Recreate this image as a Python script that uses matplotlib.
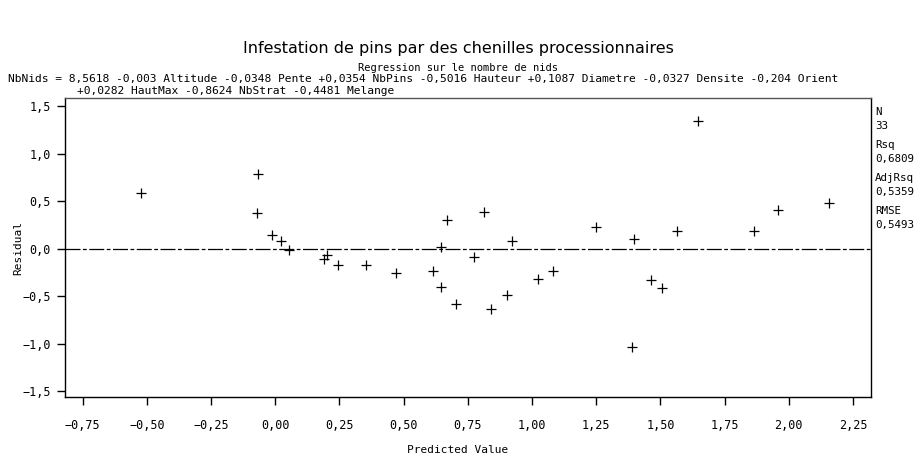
import numpy as np
import matplotlib
matplotlib.use('Agg')
import matplotlib.pyplot as plt

# predicted values and residuals
predicted = [-0.524, -0.069, -0.072, -0.012, 0.022, 0.052, 0.190, 0.203,
             0.245, 0.352, 0.470, 0.613, 0.644, 0.667, 0.646, 0.814,
             0.773, 0.922, 1.024, 1.083, 1.249, 1.398, 1.462, 1.506,
             1.565, 1.647, 1.865, 1.959, 2.156, 0.704, 0.840, 0.901, 1.388]
residual = [0.581, 0.787, 0.374, 0.142, 0.079, -0.016, -0.114, -0.068,
            -0.174, -0.174, -0.261, -0.234, 0.019, 0.300, -0.402, 0.388,
            -0.093, 0.082, -0.321, -0.233, 0.223, 0.097, -0.332, -0.412,
            0.184, 1.345, 0.184, 0.412, 0.486, -0.584, -0.640, -0.489, -1.034]

xticks = [-0.75, -0.50, -0.25, 0.00, 0.25, 0.50, 0.75, 1.00, 1.25, 1.50, 1.75, 2.00, 2.25]
yticks = [-1.5, -1.0, -0.5, 0.0, 0.5, 1.0, 1.5]
stats = [('N', '33'), ('Rsq', '0,6809'), ('AdjRsq', '0,5359'), ('RMSE', '0,5493')]

title = 'Infestation de pins par des chenilles processionnaires'
subtitle = 'Regression sur le nombre de nids'
eq1 = ('NbNids = 8,5618 -0,003 Altitude -0,0348 Pente +0,0354 NbPins -0,5016 Hauteur '
       '+0,1087 Diametre -0,0327 Densite -0,204 Orient')
eq2 = '+0,0282 HautMax -0,8624 NbStrat -0,4481 Melange'

mono = 'DejaVu Sans Mono'

fig = plt.figure(figsize=(9.16, 4.59), dpi=100)
ax = fig.add_axes([65/916, 62/459, 806/916, 299/459])

ax.axhline(0, color='black', lw=0.9, ls=(0, (12, 2, 3, 2)), zorder=1)
ax.scatter(predicted, residual, marker='+', s=45, color='black', linewidths=0.9, zorder=2)

ax.set_xlim(-0.819, 2.32)
ax.set_ylim(-1.563, 1.587)
ax.set_xticks(xticks)
ax.set_xticklabels([('%.2f' % v).replace('.', ',').replace('-', '\u2212') for v in xticks],
                   family=mono, fontsize=8.5)
ax.set_yticks(yticks)
ax.set_yticklabels([('%.1f' % v).replace('.', ',').replace('-', '\u2212') for v in yticks],
                   family=mono, fontsize=8.5)
ax.tick_params(direction='out', length=6, width=1, pad=4)
ax.tick_params(axis='x', pad=10)
for s in ax.spines.values():
    s.set_linewidth(1)
ax.spines['top'].set_color('#555555')

fig.text(0.5, 1 - 450/459, 'Predicted Value', ha='center', va='center', fontsize=8, family=mono)
fig.text(18/916, 1 - 248/459, 'Residual', ha='center', va='center', rotation=90,
         fontsize=8, family=mono)

fig.text(0.5, 1 - 48/459, title, ha='center', va='center', fontsize=11.5, family='DejaVu Sans')
fig.text(0.5, 1 - 68/459, subtitle, ha='center', va='center', fontsize=7.5, family=mono)
fig.text(8/916, 1 - 79/459, eq1, ha='left', va='center', fontsize=8.1, family=mono)
fig.text(77/916, 1 - 91/459, eq2, ha='left', va='center', fontsize=8.1, family=mono)

y = 112
for name, val in stats:
    fig.text(875/916, 1 - y/459, name, ha='left', va='center', fontsize=7.8, family=mono)
    fig.text(875/916, 1 - (y + 14)/459, val, ha='left', va='center', fontsize=7.8, family=mono)
    y += 33

fig.savefig('out.png', dpi=100)
